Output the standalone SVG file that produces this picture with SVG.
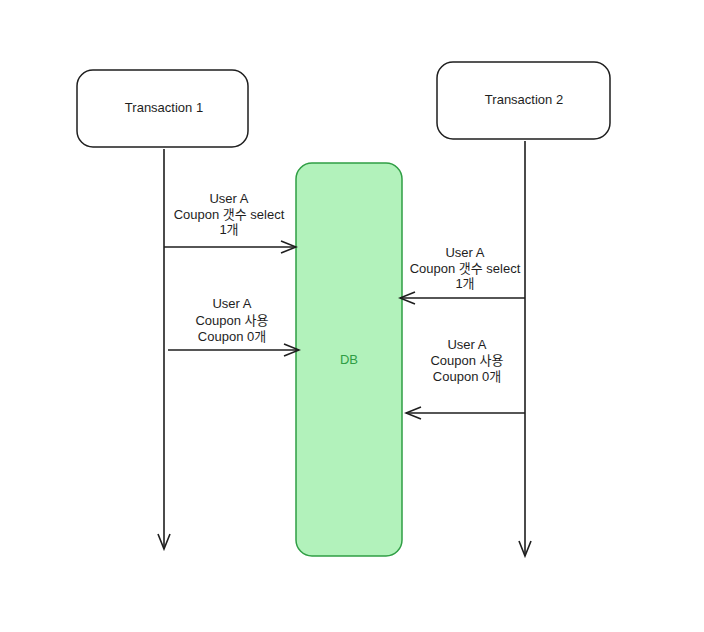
<svg xmlns="http://www.w3.org/2000/svg" width="704" height="632" viewBox="0 0 704 632">
<style>
.box{fill:#ffffff;stroke:#1e1e1e;stroke-width:1.5}
.db{fill:#b2f2bb;stroke:#2f9e44;stroke-width:1.5}
.t{font-family:"Liberation Sans","Noto Sans CJK KR",sans-serif;font-size:13px;fill:#1e1e1e;text-anchor:middle}
.g{fill:#2f9e44}
.ln{stroke:#1e1e1e;stroke-width:1.6;fill:none}
</style>
<defs>
<marker id="ah" viewBox="0 0 20 20" refX="18" refY="10" markerWidth="20" markerHeight="20" markerUnits="userSpaceOnUse" orient="auto">
<polyline points="3,4 18,10 3,16" fill="none" stroke="#1e1e1e" stroke-width="1.6"/>
</marker>
</defs>
<rect width="704" height="632" fill="#ffffff"/>
<g id="tx1">
<rect class="box" x="77" y="70" width="171" height="77" rx="16"/>
<text class="t" x="164" y="112">Transaction 1</text>
</g>
<g id="tx2">
<rect class="box" x="437" y="62" width="173" height="77" rx="16"/>
<text class="t" x="524" y="104">Transaction 2</text>
</g>
<g id="db">
<rect class="db" x="296" y="163" width="106" height="393" rx="16"/>
<text class="t g" x="349" y="364">DB</text>
</g>
<g id="connectors">
<line class="ln" x1="164" y1="149" x2="164" y2="549" marker-end="url(#ah)"/>
<line class="ln" x1="525" y1="141" x2="525" y2="556" marker-end="url(#ah)"/>
<line class="ln" x1="164" y1="247" x2="296" y2="247" marker-end="url(#ah)"/>
<line class="ln" x1="168" y1="350" x2="299" y2="350" marker-end="url(#ah)"/>
<line class="ln" x1="525" y1="298" x2="400" y2="298" marker-end="url(#ah)"/>
<line class="ln" x1="525" y1="413" x2="406" y2="413" marker-end="url(#ah)"/>
</g>
<g id="labels">
<text class="t" x="229" y="203">User A</text>
<text class="t" x="229" y="219">Coupon 갯수 select</text>
<text class="t" x="229" y="234">1개</text>
<text class="t" x="232" y="308">User A</text>
<text class="t" x="232" y="325">Coupon 사용</text>
<text class="t" x="232" y="341">Coupon 0개</text>
<text class="t" x="465" y="257">User A</text>
<text class="t" x="465" y="273">Coupon 갯수 select</text>
<text class="t" x="465" y="288">1개</text>
<text class="t" x="467" y="349">User A</text>
<text class="t" x="467" y="365">Coupon 사용</text>
<text class="t" x="467" y="381">Coupon 0개</text>
</g>
</svg>
